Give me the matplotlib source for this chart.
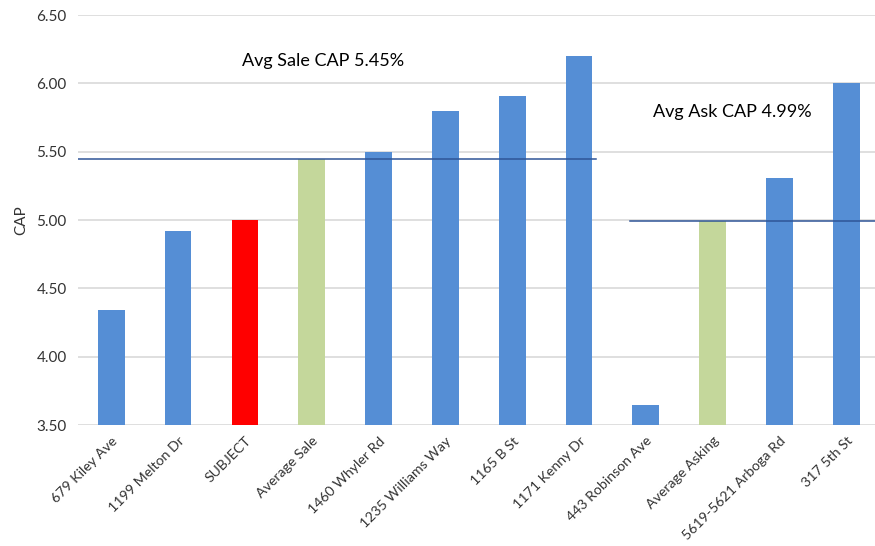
import numpy as np
import matplotlib.pyplot as plt

# --- данные ---
labels = ['679 Kiley Ave', '1199 Melton Dr', 'SUBJECT', 'Average Sale',
          '1460 Whyler Rd', '1235 Williams Way', '1165 B St', '1171 Kenny Dr',
          '443 Robinson Ave', 'Average Asking', '5619-5621 Arboga Rd', '317 5th St']
cap = [4.34, 4.92, 5.00, 5.45, 5.50, 5.80, 5.91, 6.20, 3.65, 4.99, 5.31, 6.00]
kind = ['comp', 'comp', 'subject', 'avg', 'comp', 'comp', 'comp', 'comp',
        'comp', 'avg', 'comp', 'comp']
avg_sale = 5.45
avg_ask = 4.99
yticks = [3.50, 4.00, 4.50, 5.00, 5.50, 6.00, 6.50]

colors = {'comp': '#558ed5', 'subject': '#ff0000', 'avg': '#c4d79b'}

plt.rcParams['font.family'] = ['Lato', 'DejaVu Sans']

fig = plt.figure(figsize=(8.75, 5.46), dpi=100)
ax = fig.add_axes([0.089, 0.2216, 0.911, 0.7509])

x = np.arange(len(labels))
ax.bar(x, cap, width=0.4, color=[colors[k] for k in kind], zorder=3)

# линии средних
ax.plot([-0.5, 7.25], [avg_sale, avg_sale], color='#2f5597', lw=1.1, zorder=4)
ax.plot([7.77, 11.5], [avg_ask, avg_ask], color='#2f5597', lw=1.1, zorder=4)
ax.text(1.96, 6.16, 'Avg Sale CAP 5.45%', fontsize=13, va='center', ha='left')
ax.text(8.11, 5.79, 'Avg Ask CAP 4.99%', fontsize=13, va='center', ha='left')

ax.set_xlim(-0.5, 11.43)
ax.set_ylim(3.5, 6.5)
ax.set_yticks(yticks)
ax.set_yticklabels([f'{v:.2f}' for v in yticks], fontsize=11, color='#333333')
ax.set_xticks(x)
ax.set_xticklabels(labels, rotation=45, ha='right', rotation_mode='anchor',
                   fontsize=10.2, color='#333333')
ax.set_ylabel('CAP', fontsize=11, color='#333333', labelpad=6)

ax.grid(axis='y', color='#d9d9d9', lw=1.2, zorder=0)
for s in ax.spines.values():
    s.set_visible(False)
ax.tick_params(axis='y', length=0, pad=8)
ax.tick_params(axis='x', length=0, pad=7)

fig.savefig('out.png', dpi=100)
